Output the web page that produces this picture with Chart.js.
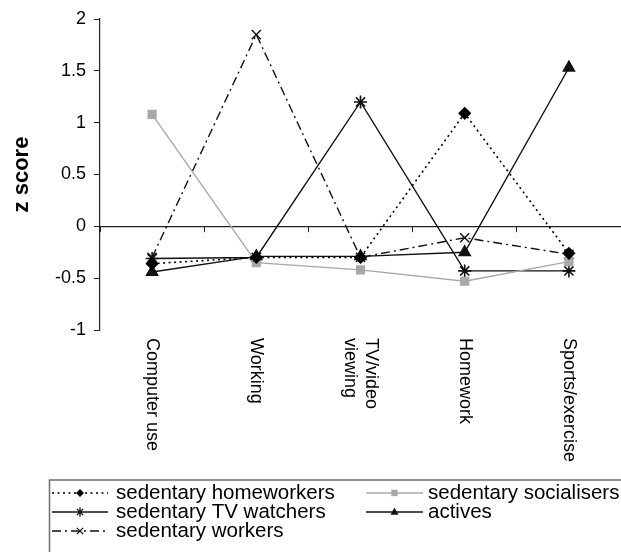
<!DOCTYPE html>
<html>
<head>
<meta charset="utf-8">
<style>
  html, body { margin: 0; padding: 0; background: #fff; }
  #wrap { position: relative; width: 621px; height: 552px; overflow: hidden; }
</style>
<script src="https://cdn.jsdelivr.net/npm/chart.js@4/dist/chart.umd.min.js"></script>
</head>
<body>
<div id="wrap"><canvas id="c" width="621" height="552"></canvas></div>
<script>
// ---- data ----
const categories = ["Computer use", "Working", ["TV/video", "viewing"], "Homework", "Sports/exercise"];
const homeworkers = [-0.36, -0.30, -0.30, 1.09, -0.26];
const socialisers = [1.08, -0.35, -0.42, -0.53, -0.34];
const tvWatchers  = [-0.31, -0.30, 1.20, -0.43, -0.43];
const actives     = [-0.44, -0.29, -0.29, -0.25, 1.53];
const workers     = [-0.30, 1.85, -0.30, -0.11, -0.27];
const seriesNames = ["sedentary homeworkers", "sedentary socialisers", "sedentary TV watchers", "actives", "sedentary workers"];
const yTicks = [-1, -0.5, 0, 0.5, 1, 1.5, 2];

const FONT = "'Liberation Sans', Arial, sans-serif";
const GREY = "#a8a8a8";

const datasets = [
  { label: seriesNames[0], data: homeworkers, borderColor: "#000", backgroundColor: "#000",
    borderDash: [2, 3.5], pointStyle: "rectRot", pointRadius: 5.5, borderWidth: 1.6, lgRadius: 4 },
  { label: seriesNames[1], data: socialisers, borderColor: GREY, backgroundColor: GREY,
    borderDash: [], pointStyle: "rect", pointRadius: 5.5, borderWidth: 1.4, lgRadius: 4 },
  { label: seriesNames[2], data: tvWatchers, borderColor: "#111", backgroundColor: "#111",
    borderDash: [], pointStyle: "star", pointRadius: 6.5, borderWidth: 1.4, pointBorderWidth: 1.6, lgRadius: 4.5 },
  { label: seriesNames[3], data: actives, borderColor: "#111", backgroundColor: "#111",
    borderDash: [], pointStyle: "triangle", pointRadius: 6.5, borderWidth: 1.4, lgRadius: 4.5 },
  { label: seriesNames[4], data: workers, borderColor: "#111", backgroundColor: "#111",
    borderDash: [9, 4, 2, 4], pointStyle: "crossRot", pointRadius: 6.5, borderWidth: 1.4, pointBorderWidth: 1.4, lgRadius: 4.5 }
];
datasets.forEach(d => { d.fill = false; d.tension = 0; d.pointHoverRadius = d.pointRadius; });

function drawMarker(ctx, style, x, y, r, color) {
  ctx.save();
  ctx.fillStyle = color; ctx.strokeStyle = color; ctx.setLineDash([]);
  ctx.lineWidth = 1.3;
  ctx.beginPath();
  if (style === "rectRot") {
    ctx.moveTo(x, y - r); ctx.lineTo(x + r, y); ctx.lineTo(x, y + r); ctx.lineTo(x - r, y); ctx.closePath(); ctx.fill();
  } else if (style === "rect") {
    const s = r * 0.8; ctx.rect(x - s, y - s, 2 * s, 2 * s); ctx.fill();
  } else if (style === "triangle") {
    ctx.moveTo(x, y - r); ctx.lineTo(x + r * 0.9, y + r * 0.6); ctx.lineTo(x - r * 0.9, y + r * 0.6); ctx.closePath(); ctx.fill();
  } else if (style === "star") {
    const d = r * 0.7;
    ctx.moveTo(x - d, y - d); ctx.lineTo(x + d, y + d);
    ctx.moveTo(x + d, y - d); ctx.lineTo(x - d, y + d);
    ctx.moveTo(x, y - r); ctx.lineTo(x, y + r);
    ctx.stroke();
  } else if (style === "crossRot") {
    const d = r * 0.7;
    ctx.moveTo(x - d, y - d); ctx.lineTo(x + d, y + d);
    ctx.moveTo(x + d, y - d); ctx.lineTo(x - d, y + d);
    ctx.stroke();
  }
  ctx.restore();
}

const extras = {
  id: "extras",
  afterDraw(chart) {
    const ctx = chart.ctx;
    const xs = chart.scales.x;
    const area = chart.chartArea;
    // rotated category labels (clockwise, reading top-to-bottom)
    ctx.save();
    ctx.fillStyle = "#000";
    ctx.font = "18px " + FONT;
    ctx.textAlign = "left";
    ctx.textBaseline = "middle";
    const lh = 21;
    categories.forEach((lab, i) => {
      const lines = Array.isArray(lab) ? lab : [lab];
      const cx = xs.getPixelForValue(i);
      ctx.save();
      ctx.translate(cx, area.bottom + 8);
      ctx.rotate(Math.PI / 2);
      lines.forEach((ln, j) => {
        const off = (j - (lines.length - 1) / 2) * lh;
        ctx.fillText(ln, 0, off);
      });
      ctx.restore();
    });
    ctx.restore();

    // legend
    ctx.save();
    ctx.strokeStyle = "#6e6e6e";
    ctx.lineWidth = 1.5;
    ctx.strokeRect(49.5, 480, 600, 100);
    const rows = [493, 512, 531];
    const cols = [{ s: 52, e: 108, t: 116 }, { s: 366, e: 423, t: 428 }];
    const order = [0, 1, 2, 3, 4];
    ctx.font = "20.5px " + FONT;
    ctx.textBaseline = "middle";
    ctx.textAlign = "left";
    order.forEach((di, k) => {
      const d = chart.data.datasets[di];
      const col = cols[k % 2];
      const y = rows[Math.floor(k / 2)];
      ctx.save();
      ctx.strokeStyle = d.borderColor;
      ctx.lineWidth = d.borderWidth;
      ctx.setLineDash(d.borderDash || []);
      ctx.beginPath();
      ctx.moveTo(col.s, y); ctx.lineTo(col.e, y); ctx.stroke();
      ctx.restore();
      drawMarker(ctx, d.pointStyle, (col.s + col.e) / 2, y, d.lgRadius, d.backgroundColor);
      ctx.fillStyle = "#000";
      ctx.fillText(d.label, col.t, y);
    });
    ctx.restore();
  }
};

new Chart(document.getElementById("c"), {
  type: "line",
  data: { labels: categories.map(c => Array.isArray(c) ? c.join(" ") : c), datasets: datasets },
  options: {
    responsive: false,
    animation: false,
    events: [],
    layout: { autoPadding: false, padding: { left: 0, right: 0, top: 19, bottom: 222 } },
    plugins: { legend: { display: false }, tooltip: { enabled: false } },
    scales: {
      x: {
        type: "category",
        offset: true,
        position: { y: 0 },
        afterFit: s => { s.paddingLeft = 0; s.paddingRight = 0; },
        grid: { offset: true, drawOnChartArea: false, drawTicks: true, tickLength: 5, color: "#222", lineWidth: 1 },
        border: { display: true, color: "#222", width: 1.2 },
        ticks: { display: false }
      },
      y: {
        min: -1, max: 2,
        afterBuildTicks: s => { s.ticks = yTicks.map(v => ({ value: v })); },
        afterFit: s => { s.width = 100; },
        grid: { drawOnChartArea: false, drawTicks: true, tickLength: 6, color: "#222" },
        border: { display: true, color: "#222", width: 1.2 },
        ticks: { color: "#000", font: { family: FONT, size: 18 }, padding: 8, callback: v => String(v) },
        title: { display: true, text: "z score", color: "#000", font: { family: FONT, size: 22, weight: "bold" }, padding: { top: 9, bottom: 0 } }
      }
    }
  },
  plugins: [extras]
});
</script>
</body>
</html>
